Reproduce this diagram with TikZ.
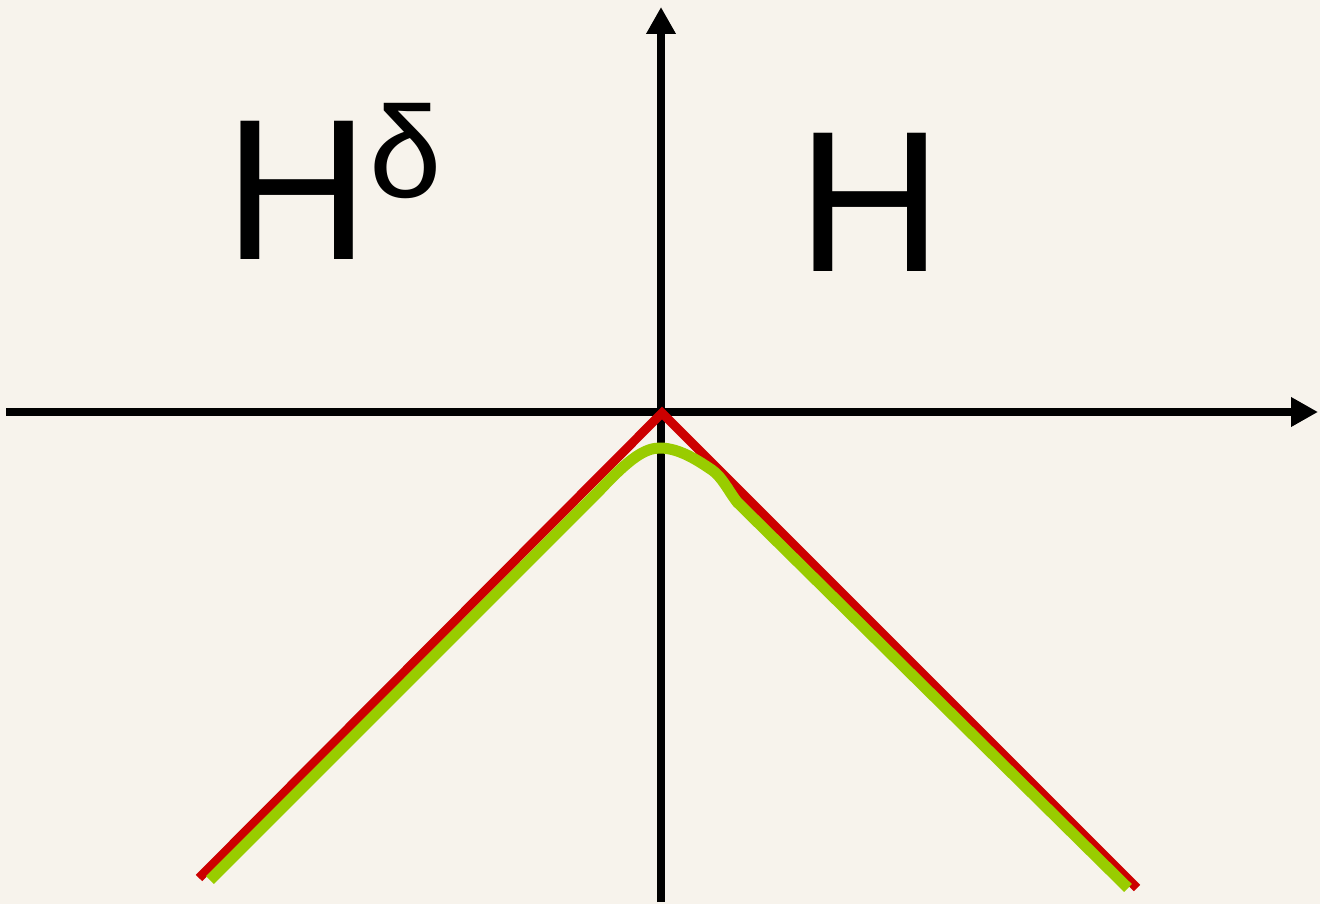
\documentclass[tikz,border=0pt]{standalone}
\usepackage{fontspec}
\setmainfont{Liberation Sans}
\usetikzlibrary{arrows.meta}
\definecolor{bgc}{RGB}{247,243,236}
\definecolor{redc}{RGB}{204,0,0}
\definecolor{greenc}{RGB}{153,204,0}
\begin{document}
\begin{tikzpicture}[x=1pt,y=-1pt,
  axis/.style={line width=8.5pt,-{Triangle[length=27pt,width=28pt]}},
  redline/.style={draw=redc,line width=9pt,line join=miter},
  greenline/.style={draw=greenc,line width=11pt,line join=round},
  label/.style={inner sep=0pt,outer sep=0pt,text=black}]
\fill[bgc] (0,0) rectangle (1320,904);
\useasboundingbox (0,0) rectangle (1320,904);
\coordinate (xl) at (6,412);
\coordinate (xr) at (1318,412);
\coordinate (yb) at (661,902);
\coordinate (yt) at (661,7);
\draw[axis] (xl) -- (xr);
\draw[axis] (yb) -- (yt);
\coordinate (r1) at (199,878);
\coordinate (r2) at (662,413);
\coordinate (r3) at (1137,888);
\draw[redline] (r1) -- (r2) -- (r3);
\coordinate (g1) at (210,880);
\coordinate (g2) at (600,490);
\coordinate (g3) at (660,448);
\coordinate (g4) at (712,470);
\coordinate (g5) at (737,502);
\coordinate (g6) at (1128,888);
\draw[greenline] (g1) -- (g2) .. controls (630,458) and (645,448) .. (g3)
  .. controls (680,448) and (700,462) .. (g4)
  .. controls (722,477) and (728,490) .. (g5) -- (g6);
\node[label,anchor=base west] (hd) at (224,259)
  {\fontsize{201}{201}\selectfont H\raisebox{62pt}{\fontsize{130}{130}\selectfont δ}};
\node[label,anchor=base] (h) at (870,271) {\fontsize{201}{201}\selectfont H};
\end{tikzpicture}
\end{document}
